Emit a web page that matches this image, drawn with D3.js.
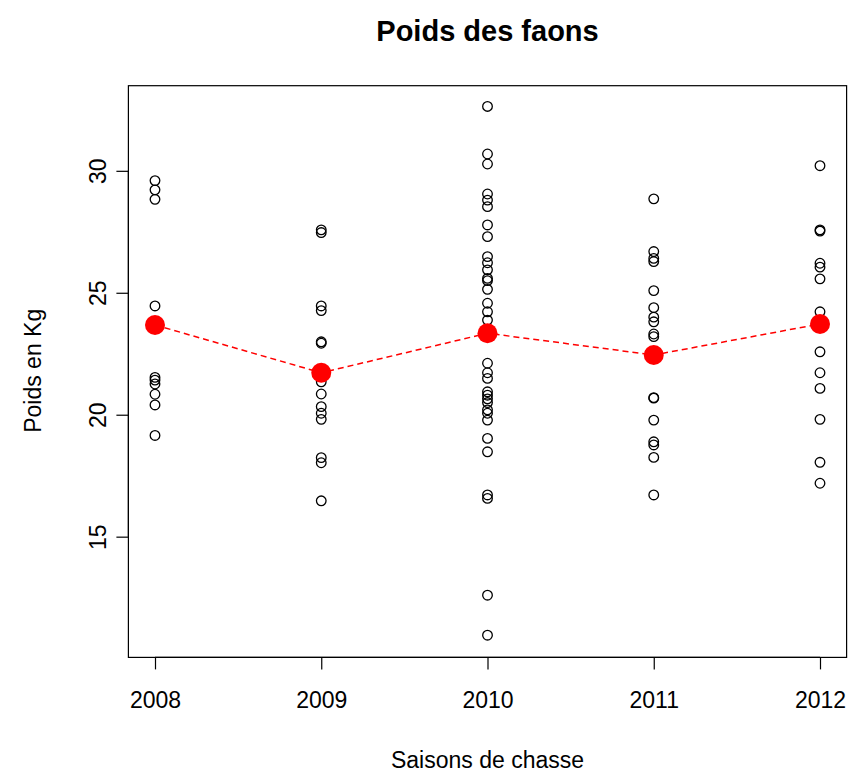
<!DOCTYPE html>
<meta charset="utf-8">
<title>Poids des faons</title>
<style>
  body { margin: 0; background: #fff; }
  text { font-family: "Liberation Sans", Arial, sans-serif; }
</style>
<body>
<script src="https://cdn.jsdelivr.net/npm/d3@7"></script>
<script>
var width = 852, height = 772;

// saisons et poids (kg)
var seasons = ["2008", "2009", "2010", "2011", "2012"];
var w2008 = [29.60, 29.22, 28.83, 24.46, 21.53, 21.42, 21.26, 20.84, 20.40, 19.15];
var w2009 = [27.58, 27.47, 24.46, 24.27, 22.99, 22.93, 21.35, 20.85, 20.33, 20.06, 19.81, 18.24, 18.03, 16.47];
var w2010 = [32.64, 30.69, 30.28, 29.05, 28.80, 28.53, 27.78, 27.30, 26.48, 26.23, 25.94, 25.59, 25.50,
             25.14, 24.57, 24.22, 23.88, 22.11, 21.72, 21.49, 20.94, 20.80, 20.65, 20.50, 20.20, 20.06,
             19.78, 19.03, 18.48, 16.71, 16.57, 12.60, 10.96];
var w2011 = [28.85, 26.69, 26.41, 26.28, 25.09, 24.39, 24.00, 23.81, 23.31, 23.20, 20.70, 20.68,
             19.78, 18.89, 18.76, 18.25, 16.71];
var w2012 = [30.21, 27.58, 27.53, 26.21, 26.05, 25.57, 24.22, 22.58, 21.72, 21.08, 19.81, 18.05, 17.19];
var means = [23.68, 21.72, 23.34, 22.45, 23.72];
var yTicks = [15, 20, 25, 30];

var weights = [w2008, w2009, w2010, w2011, w2012];
var points = [];
weights.forEach(function(arr, i) {
  arr.forEach(function(v) { points.push({ s: i + 1, v: v }); });
});

var svg = d3.select("body").append("svg")
    .attr("width", width)
    .attr("height", height);

var x = d3.scaleLinear().domain([0.84, 5.16]).range([128.4, 846.6]);
var y = d3.scaleLinear().domain([10.05, 33.49]).range([657.4, 85.7]);

// cadre
svg.append("rect")
    .attr("x", x(0.84)).attr("y", y(33.49))
    .attr("width", x(5.16) - x(0.84))
    .attr("height", y(10.05) - y(33.49))
    .attr("fill", "none").attr("stroke", "#000").attr("stroke-width", 1.2);

var xAxis = d3.axisBottom(x)
    .tickValues([1, 2, 3, 4, 5])
    .tickFormat(function(d) { return seasons[d - 1]; })
    .tickSize(12).tickPadding(22);
var gx = svg.append("g")
    .attr("transform", "translate(0," + y(10.05) + ")")
    .call(xAxis);
gx.select(".domain").attr("d", "M" + x(1) + ",0H" + x(5));

var yAxis = d3.axisLeft(y)
    .tickValues(yTicks)
    .tickSize(12);
var gy = svg.append("g")
    .attr("transform", "translate(" + x(0.84) + ",0)")
    .call(yAxis);
gy.select(".domain").attr("d", "M0," + y(15) + "V" + y(30));
gy.selectAll(".tick text")
    .attr("transform", "rotate(-90)")
    .attr("x", 0).attr("y", -22)
    .attr("dy", 0)
    .attr("text-anchor", "middle");

[gx, gy].forEach(function(g) {
  g.selectAll("text").attr("font-size", 23).attr("fill", "#000")
      .attr("font-family", "Liberation Sans, Arial, sans-serif");
  g.selectAll("line, path").attr("stroke", "#000").attr("stroke-width", 1.2);
});

// points individuels
svg.append("g").selectAll("circle")
    .data(points)
  .enter().append("circle")
    .attr("cx", function(d) { return x(d.s); })
    .attr("cy", function(d) { return y(d.v); })
    .attr("r", 4.8)
    .attr("fill", "none")
    .attr("stroke", "#000")
    .attr("stroke-width", 1.3);

// moyennes
var line = d3.line()
    .x(function(d, i) { return x(i + 1); })
    .y(function(d) { return y(d); });
svg.append("path")
    .datum(means)
    .attr("d", line)
    .attr("fill", "none")
    .attr("stroke", "#ff0000")
    .attr("stroke-width", 1.5)
    .attr("stroke-dasharray", "6,4");
svg.append("g").selectAll("circle")
    .data(means)
  .enter().append("circle")
    .attr("cx", function(d, i) { return x(i + 1); })
    .attr("cy", function(d) { return y(d); })
    .attr("r", 10)
    .attr("fill", "#ff0000");

svg.append("text")
    .attr("x", x(3)).attr("y", 41)
    .attr("text-anchor", "middle")
    .attr("font-size", 29).attr("font-weight", "bold")
    .text("Poids des faons");

svg.append("text")
    .attr("x", x(3)).attr("y", 768)
    .attr("text-anchor", "middle")
    .attr("font-size", 23)
    .text("Saisons de chasse");

svg.append("text")
    .attr("transform", "translate(41," + y(21.8) + ") rotate(-90)")
    .attr("text-anchor", "middle")
    .attr("font-size", 23)
    .text("Poids en Kg");
</script>
</body>
